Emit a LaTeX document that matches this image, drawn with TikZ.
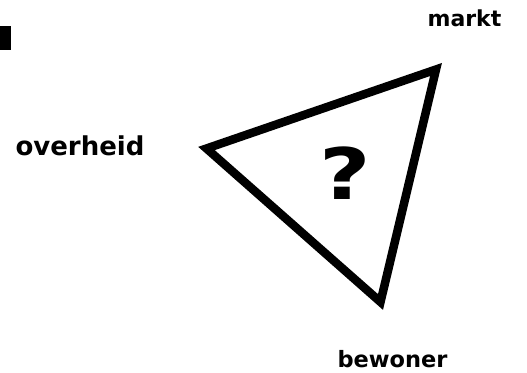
\documentclass[tikz,border=0pt]{standalone}
\usepackage{fontspec}
\setmainfont{DejaVu Sans}
\begin{document}
\begin{tikzpicture}[x=1pt,y=-1pt,
  lbl/.style={font=\bfseries, inner sep=0pt, anchor=base},
  tri/.style={line width=8.5pt, line join=miter}]
\useasboundingbox (0,0) rectangle (527,372);
\fill[black] (0,26) rectangle (11,50);
\coordinate (L) at (206.5,148.5);
\coordinate (T) at (436,69.5);
\coordinate (B) at (380.5,302);
\draw[tri] (L) -- (T) -- (B) -- cycle;
\node[lbl, font=\bfseries\fontsize{71}{71}\selectfont] (q) at (345,199) {\scalebox{1.25}[1]{?}};
\node[lbl, font=\bfseries\fontsize{22}{22}\selectfont] (markt) at (464.5,27) {markt};
\node[lbl, font=\bfseries\fontsize{26}{26}\selectfont] (overheid) at (80,155) {overheid};
\node[lbl, font=\bfseries\fontsize{22.5}{22.5}\selectfont] (bewoner) at (392.5,367) {bewoner};
\end{tikzpicture}
\end{document}
